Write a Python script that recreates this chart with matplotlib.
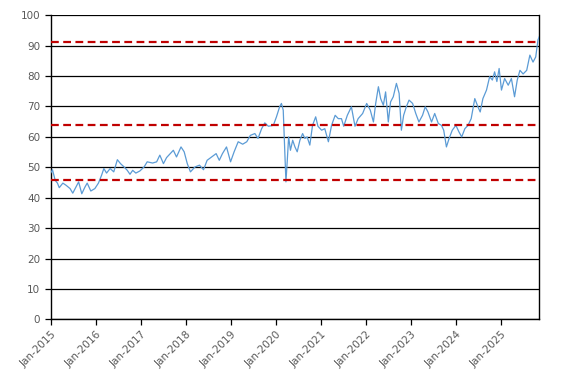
import numpy as np
import pandas as pd
import matplotlib
matplotlib.use("Agg")
import matplotlib.pyplot as plt
import matplotlib.dates as mdates

# decimal years and values
years = [
    2015.00, 2015.04, 2015.10, 2015.15, 2015.19, 2015.27, 2015.34, 2015.43,
    2015.49, 2015.56, 2015.62, 2015.69, 2015.76, 2015.81, 2015.89, 2015.98,
    2016.06, 2016.13, 2016.18, 2016.24, 2016.32, 2016.40, 2016.48, 2016.55,
    2016.63, 2016.70, 2016.76, 2016.82, 2016.89, 2016.98, 2017.07, 2017.14,
    2017.26, 2017.35, 2017.42, 2017.50, 2017.57, 2017.65, 2017.72, 2017.79,
    2017.89, 2017.96, 2018.03, 2018.10, 2018.20, 2018.30, 2018.39, 2018.47,
    2018.57, 2018.67, 2018.74, 2018.81, 2018.90, 2018.99, 2019.07, 2019.16,
    2019.26, 2019.35, 2019.43, 2019.53, 2019.60, 2019.68, 2019.75, 2019.83,
    2019.94, 2020.01, 2020.08, 2020.12, 2020.16, 2020.19, 2020.22, 2020.25,
    2020.28, 2020.32, 2020.37, 2020.42, 2020.47, 2020.53, 2020.59, 2020.64,
    2020.69, 2020.75, 2020.81, 2020.88, 2020.93, 2021.01, 2021.08, 2021.16,
    2021.23, 2021.31, 2021.38, 2021.45, 2021.50, 2021.58, 2021.67, 2021.75,
    2021.82, 2021.92, 2022.01, 2022.09, 2022.16, 2022.21, 2022.27, 2022.32,
    2022.38, 2022.43, 2022.49, 2022.54, 2022.60, 2022.67, 2022.73, 2022.78,
    2022.83, 2022.89, 2022.95, 2023.03, 2023.10, 2023.17, 2023.25, 2023.31,
    2023.37, 2023.45, 2023.52, 2023.60, 2023.67, 2023.72, 2023.78, 2023.84,
    2023.91, 2023.99, 2024.06, 2024.12, 2024.19, 2024.26, 2024.33, 2024.41,
    2024.48, 2024.53, 2024.59, 2024.67, 2024.74, 2024.80, 2024.85, 2024.90,
    2024.95, 2025.00, 2025.07, 2025.15, 2025.22, 2025.29, 2025.35, 2025.41,
    2025.48, 2025.56, 2025.63, 2025.70, 2025.76, 2025.78, 2025.81, 2025.84,
]
values = [
    48.1, 49.2, 45.7, 44.8, 43.3, 44.8, 44.1, 43.0,
    41.5, 43.5, 45.2, 41.3, 43.5, 44.8, 42.2, 43.0,
    44.8, 47.4, 49.6, 48.1, 49.6, 48.5, 52.5, 51.2,
    50.1, 49.0, 47.7, 49.0, 48.1, 48.8, 50.1, 51.8,
    51.4, 51.8, 54.0, 51.2, 53.2, 54.5, 55.6, 53.4,
    56.7, 55.1, 51.2, 48.5, 50.1, 50.7, 49.2, 52.3,
    53.4, 54.5, 52.3, 54.5, 56.7, 51.8, 55.1, 58.4,
    57.6, 58.4, 60.5, 61.1, 59.5, 62.7, 64.6, 63.5,
    63.8, 66.6, 69.9, 71.0, 68.8, 56.7, 45.2, 52.3,
    60.0, 55.6, 58.9, 56.7, 55.1, 58.9, 61.1, 59.5,
    60.0, 57.3, 63.8, 66.6, 63.5, 62.2, 62.7, 58.4,
    63.8, 67.1, 66.0, 66.0, 63.5, 67.1, 69.9, 63.5,
    66.0, 67.7, 71.0, 68.8, 64.9, 71.0, 76.5, 72.6,
    70.4, 74.8, 64.9, 71.5, 73.2, 77.6, 74.3, 62.2,
    67.1, 69.9, 72.1, 71.0, 67.7, 64.9, 67.1, 69.9,
    68.2, 64.9, 67.7, 64.4, 63.8, 62.2, 56.7, 59.5,
    62.2, 63.8, 61.6, 60.0, 62.7, 63.8, 66.0, 72.6,
    69.9, 68.2, 72.6, 75.4, 79.8, 78.7, 81.4, 78.2,
    82.5, 75.4, 79.2, 77.0, 79.2, 73.2, 78.7, 81.9,
    80.7, 81.9, 86.9, 84.6, 86.3, 88.6, 91.9, 93.0,
]

# horizontal reference levels
levels = [91.2, 63.8, 45.7]


def to_dates(decimal_years):
    out = []
    for y in decimal_years:
        start = pd.Timestamp(year=int(y), month=1, day=1)
        out.append(start + pd.Timedelta(days=(y - int(y)) * 365.25))
    return out


dates = to_dates(years)

fig = plt.figure(figsize=(5.67, 3.82), dpi=100)
ax = fig.add_axes([0.0894, 0.1641, 0.8618, 0.7959])

ax.set_ylim(0, 100)
ax.set_yticks(np.arange(0, 101, 10))
ax.yaxis.grid(True, color="black", linewidth=0.9)
ax.set_axisbelow(True)

ax.plot(dates, values, color="#5b9bd5", linewidth=0.9, zorder=3)
for lv in levels:
    ax.axhline(lv, color="#c00000", linestyle=(0, (3.5, 2)), linewidth=1.6, zorder=4)

ax.set_xlim(dates[0], dates[-1])
ax.xaxis.set_major_locator(mdates.YearLocator())
ax.xaxis.set_major_formatter(mdates.DateFormatter("%b-%Y"))

for side in ["left", "bottom", "right"]:
    ax.spines[side].set_color("black")
    ax.spines[side].set_linewidth(1.0)
ax.spines["top"].set_visible(False)

ax.tick_params(axis="both", colors="#595959", labelsize=7.5, length=4, width=0.9)
ax.tick_params(axis="x", color="black")
ax.tick_params(axis="y", color="black")
for lab in ax.get_xticklabels():
    lab.set_rotation(45)
    lab.set_ha("right")
    lab.set_rotation_mode("anchor")

fig.savefig("out.png", dpi=100)
